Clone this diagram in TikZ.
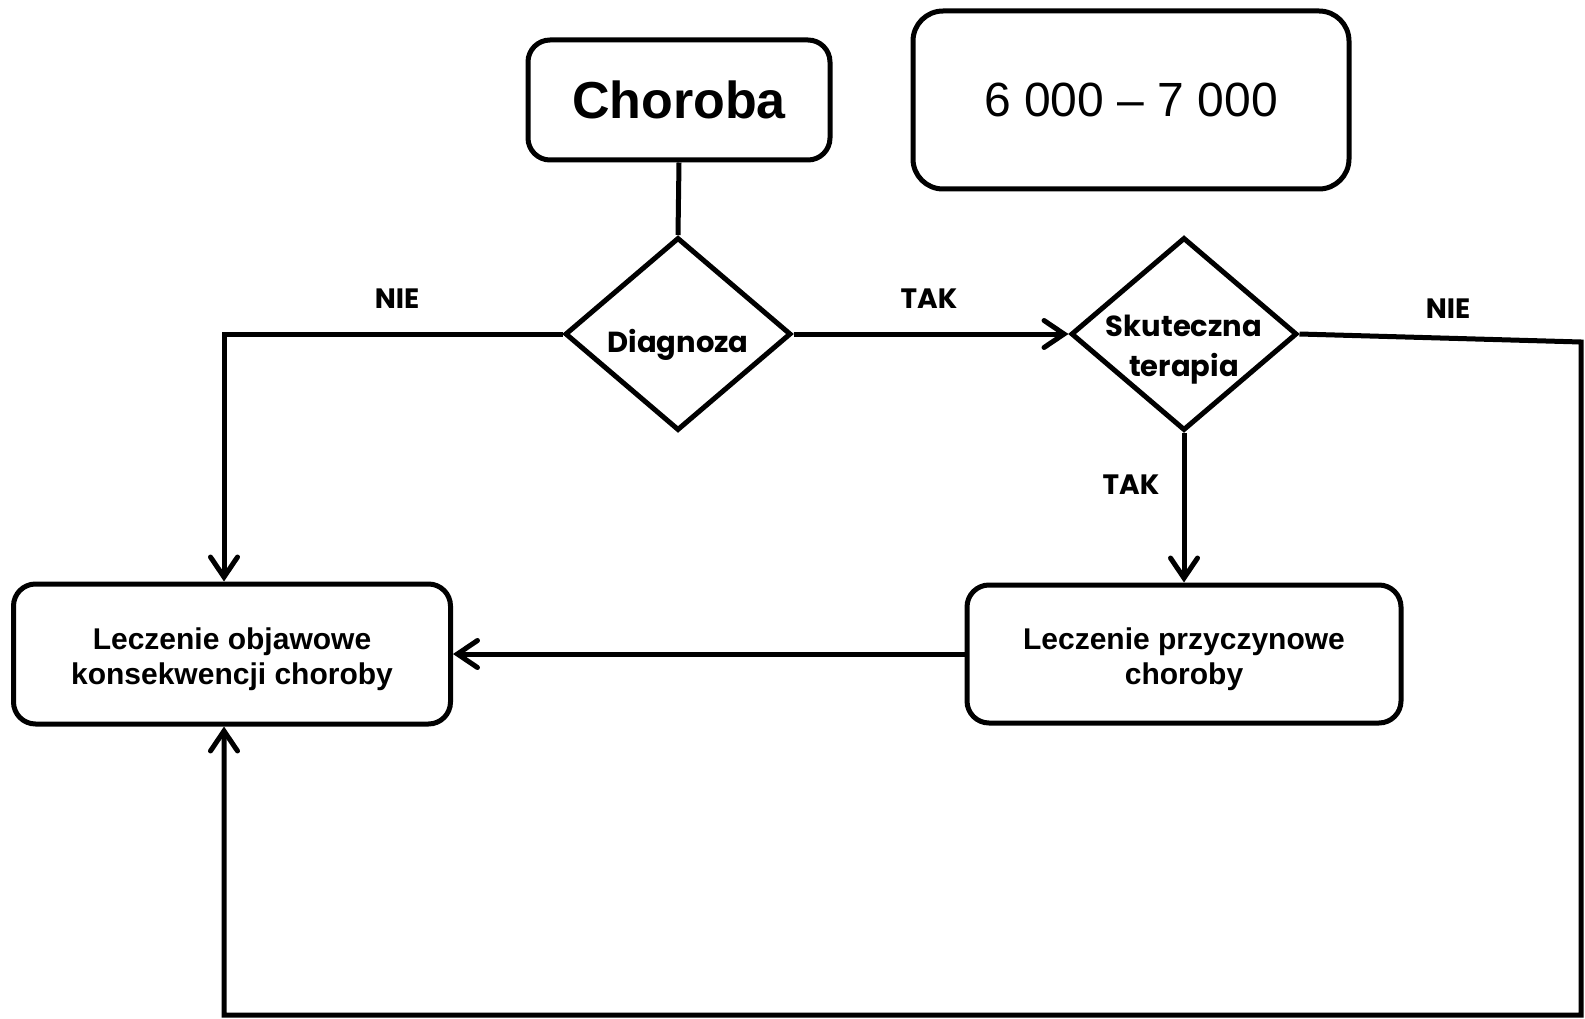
\documentclass[tikz,border=0pt]{standalone}
\usepackage{fontspec}
\setmainfont{Liberation Sans}
\newfontfamily\gothic{Poppins}
\usetikzlibrary{shapes.geometric,arrows.meta,calc}
\begin{document}
\begin{tikzpicture}[x=1pt,y=-1pt,
  line width=5pt,
  box/.style={draw, rounded corners=22pt, align=center, inner sep=0pt, font=\bfseries\fontsize{30}{35}\selectfont},
  decision/.style={draw, diamond, minimum width=226pt, minimum height=193pt, inner sep=0pt},
  dtext/.style={align=center, inner sep=0pt, font=\gothic\bfseries\fontsize{29}{40}\selectfont},
  lbl/.style={font=\gothic\bfseries\fontsize{28}{30}\selectfont},
  arr/.style={-{Straight Barb[length=20pt,width=27pt,line cap=round]}}
]
\useasboundingbox (0,0) rectangle (1585,1019);
\node[box, minimum width=302pt, minimum height=120pt, font=\bfseries\fontsize{52}{60}\selectfont] (chor) at (679,100) {Choroba};
\node[box, rounded corners=30pt, minimum width=436pt, minimum height=178pt, font=\fontsize{48}{55}\selectfont] (range) at (1131,100) {6 000 – 7 000};
\node[decision] (diag) at (678,334) {};
\node[decision] (sk) at (1184,334) {};
\node[dtext] (diagt) at ($(diag)+(0,11)$) {Diagnoza};
\node[dtext] (skt) at ($(sk)+(0,16)$) {Skuteczna\\terapia};
\node[box, minimum width=437pt, minimum height=140pt] (obj) at (232,654) {\rule{0pt}{32pt}Leczenie objawowe\\konsekwencji choroby};
\node[box, minimum width=434pt, minimum height=138pt] (prz) at (1184,654) {\rule{0pt}{32pt}Leczenie przyczynowe\\choroby};

\coordinate (objtop) at ($(obj.north)+(-8,0)$);
\coordinate (objbot) at ($(obj.south)+(-8,0)$);
\coordinate (c1) at (1581,342);
\coordinate (c2) at (1581,1015);

\draw (chor.south) -- (diag.north);
\draw[arr] (diag.west) -| (objtop);
\draw[arr] (diag.east) -- (sk.west);
\draw[arr] (sk.south) -- (prz.north);
\draw[arr] (prz.west) -- (obj.east);
\draw[arr] (sk.east) -- (c1) -- (c2) -| (objbot);

\node[lbl] (nie1) at (397,299) {NIE};
\node[lbl] (tak1) at (929,299) {TAK};
\node[lbl] (nie2) at (1448,309) {NIE};
\node[lbl] (tak2) at (1131,485) {TAK};
\end{tikzpicture}
\end{document}
